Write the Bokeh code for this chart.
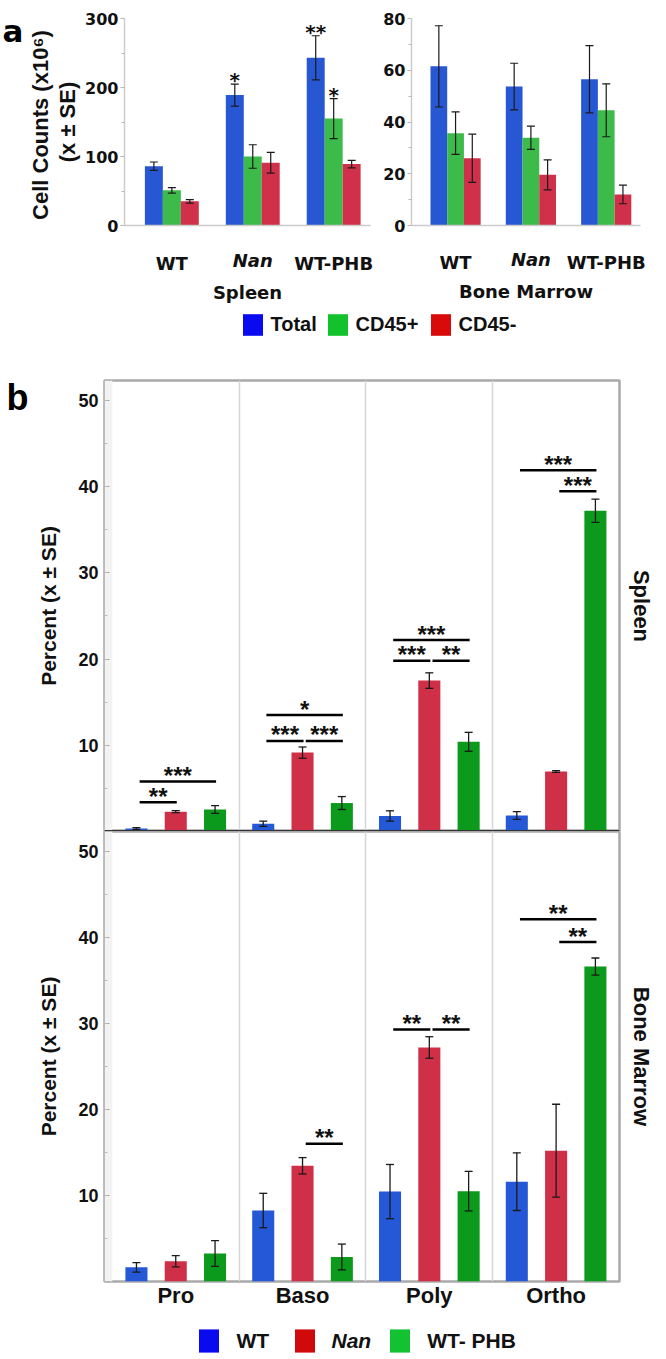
import numpy as np
from bokeh.plotting import figure
from bokeh.models import (Range1d, FixedTicker, SingleIntervalTicker, LinearAxis, Whisker,
                          TeeHead, ColumnDataSource, Legend, LegendItem, Span,
                          BoxAnnotation)
from bokeh.layouts import column, row
from bokeh.embed import file_html
from bokeh.resources import INLINE
from bokeh.core.properties import value

# ---------------- panel a data: cell counts (x10^6) ----------------
a_groups = ["WT", "Nan", "WT-PHB"]
a_series = ["Total", "CD45+", "CD45-"]

spleen_total = [86, 189, 243]
spleen_total_se = [6, 16, 32]
spleen_cd45pos = [51, 100, 155]
spleen_cd45pos_se = [4, 17, 29]
spleen_cd45neg = [35, 91, 89]
spleen_cd45neg_se = [2.5, 15, 5.5]

marrow_total = [61.5, 53.7, 56.5]
marrow_total_se = [15.7, 9.0, 13.0]
marrow_cd45pos = [35.7, 33.9, 44.5]
marrow_cd45pos_se = [8.2, 4.5, 10.2]
marrow_cd45neg = [26.0, 19.6, 12.0]
marrow_cd45neg_se = [9.3, 5.8, 3.6]

spleen_count_stars = [("Nan", "Total", "*"), ("WT-PHB", "Total", "**"), ("WT-PHB", "CD45+", "*")]
marrow_count_stars = []

# ---------------- panel b data: percent of erythroid stages ----------------
b_stages = ["Pro", "Baso", "Poly", "Ortho"]
b_genotypes = ["WT", "Nan", "WT- PHB"]

spleen_wt = [0.35, 0.9, 1.8, 1.85]
spleen_wt_se = [0.1, 0.3, 0.6, 0.45]
spleen_nan = [2.3, 9.15, 17.5, 6.95]
spleen_nan_se = [0.12, 0.65, 0.9, 0.1]
spleen_phb = [2.55, 3.3, 10.4, 37.2]
spleen_phb_se = [0.45, 0.75, 1.1, 1.35]

marrow_wt = [1.65, 8.25, 10.45, 11.6]
marrow_wt_se = [0.55, 2.0, 3.15, 3.35]
marrow_nan = [2.35, 13.45, 27.2, 15.2]
marrow_nan_se = [0.65, 0.95, 1.25, 5.4]
marrow_phb = [3.25, 2.85, 10.5, 36.6]
marrow_phb_se = [1.5, 1.5, 2.3, 1.0]

# (stage, from genotype, to genotype, bracket height, label)
spleen_sig = [("Pro", "WT", "Nan", 3.4, "**"), ("Pro", "WT", "WT- PHB", 5.8, "***"),
              ("Baso", "WT", "Nan", 10.5, "***"), ("Baso", "Nan", "WT- PHB", 10.5, "***"),
              ("Baso", "WT", "WT- PHB", 13.5, "*"),
              ("Poly", "WT", "Nan", 19.8, "***"), ("Poly", "Nan", "WT- PHB", 19.8, "**"),
              ("Poly", "WT", "WT- PHB", 22.2, "***"),
              ("Ortho", "WT", "WT- PHB", 41.9, "***"), ("Ortho", "Nan", "WT- PHB", 39.45, "***")]
marrow_sig = [("Baso", "Nan", "WT- PHB", 16.0, "**"),
              ("Poly", "WT", "Nan", 29.3, "**"), ("Poly", "Nan", "WT- PHB", 29.3, "**"),
              ("Ortho", "WT", "WT- PHB", 42.1, "**"), ("Ortho", "Nan", "WT- PHB", 39.45, "**")]

# ---------------- styles ----------------
A_BAR = {"Total": "#2757d3", "CD45+": "#3cba4a", "CD45-": "#d03049"}
A_LEG = {"Total": "#0a0af0", "CD45+": "#12c22c", "CD45-": "#d80a0a"}
B_BAR = {"WT": "#2458d6", "Nan": "#d02f48", "WT- PHB": "#0b9a1b"}
B_LEG = {"WT": "#0a0af0", "Nan": "#d00a0a", "WT- PHB": "#12c232"}
ARIAL = "Liberation Sans"
DEJAVU = "DejaVu Sans"
INK = "#111111"
A_W = 0.222
B_W = 0.174
B_OFF = 0.31
A_LABEL_H = 21  # height of an 18px DejaVu tick label box


def whisker(src, size, lw):
    return Whisker(source=src, base="x", upper="up", lower="lo", level="annotation",
                   line_color="#1a1a1a", line_width=lw,
                   upper_head=TeeHead(size=size, line_width=lw, line_color="#1a1a1a"),
                   lower_head=TeeHead(size=size, line_width=lw, line_color="#1a1a1a"))


def count_panel(means, ses, ymax, step, xlabel, width, bl, bt, fh, bb, br, stars, ylabel, standoff):
    p = figure(width=width, height=bt + fh + bb, x_range=Range1d(-0.085, 2.955),
               y_range=Range1d(0, ymax), output_backend="svg", toolbar_location=None,
               min_border_left=bl, min_border_right=br, min_border_top=bt, min_border_bottom=bb)
    p.outline_line_color = None
    p.grid.visible = False
    tops = {}
    for k, s in enumerate(a_series):
        xs = [i + 0.5 + (k - 1) * A_W for i in range(len(a_groups))]
        up = [m + e for m, e in zip(means[k], ses[k])]
        lo = [m - e for m, e in zip(means[k], ses[k])]
        src = ColumnDataSource(dict(x=xs, top=means[k], up=up, lo=lo))
        p.vbar(x="x", top="top", bottom=0, width=A_W, source=src,
               fill_color=A_BAR[s], line_color=None)
        p.add_layout(whisker(src, 8, 1.2))
        for i, g in enumerate(a_groups):
            tops[(g, s)] = (xs[i], up[i])
    if stars:
        p.text(x=[tops[(g, s)][0] for g, s, _ in stars], y=[tops[(g, s)][1] for g, s, _ in stars],
               text=[t for _, _, t in stars], text_font=value(DEJAVU), text_font_style="bold",
               text_font_size="20px", text_align="center", text_baseline="alphabetic",
               y_offset=-4, text_color=INK)
    ticks = {g: i + 0.5 for i, g in enumerate(a_groups)}
    # inner x axis: the italic genotype label ("Nan")
    xa = p.xaxis[0]
    xa.ticker = FixedTicker(ticks=[ticks["Nan"]])
    xa.major_label_overrides = {ticks["Nan"]: "Nan"}
    xa.major_tick_line_color = None
    xa.major_tick_out = 0
    xa.major_tick_in = 0
    xa.minor_tick_line_color = None
    xa.axis_line_color = "#cccccc"
    xa.axis_line_width = 1.5
    xa.major_label_text_font = DEJAVU
    xa.major_label_text_font_style = "bold italic"
    xa.major_label_text_font_size = "18px"
    xa.major_label_text_color = INK
    xa.major_label_standoff = standoff
    # outer x axis: the upright genotype labels and the tissue title, on the same line
    upright = [g for g in a_groups if g != "Nan"]
    xo = LinearAxis(ticker=FixedTicker(ticks=[ticks[g] for g in upright]),
                    major_label_overrides={ticks[g]: g for g in upright},
                    axis_line_color=None, major_tick_line_color=None, minor_tick_line_color=None,
                    major_tick_out=0, major_tick_in=0,
                    major_label_standoff=-A_LABEL_H,
                    major_label_text_font=DEJAVU, major_label_text_font_style="bold",
                    major_label_text_font_size="18px", major_label_text_color=INK,
                    axis_label=xlabel, axis_label_text_font=DEJAVU,
                    axis_label_text_font_style="bold", axis_label_text_font_size="18px",
                    axis_label_text_color=INK, axis_label_standoff=5)
    p.add_layout(xo, "below")
    # y axis
    ya = p.yaxis[0]
    ya.ticker = SingleIntervalTicker(interval=step, num_minor_ticks=2)
    ya.axis_line_color = "#cccccc"
    ya.axis_line_width = 1.5
    ya.major_tick_line_color = "#aaaaaa"
    ya.major_tick_in = 0
    ya.major_tick_out = 4
    ya.minor_tick_line_color = "#bbbbbb"
    ya.minor_tick_in = 0
    ya.minor_tick_out = 3
    ya.major_label_text_font = DEJAVU
    ya.major_label_text_font_style = "bold"
    ya.major_label_text_font_size = "16px"
    ya.major_label_text_color = INK
    ya.major_label_standoff = 2
    if ylabel:
        ya.axis_label = "(x ± SE)"
        ya.axis_label_text_font = ARIAL
        ya.axis_label_text_font_style = "bold"
        ya.axis_label_text_font_size = "22px"
        ya.axis_label_text_color = INK
        ya.axis_label_standoff = 2
        outer = LinearAxis(ticker=FixedTicker(ticks=[]), axis_label="Cell Counts  (x10⁶)",
                           axis_line_color=None, major_tick_line_color=None,
                           minor_tick_line_color=None, major_tick_out=0, major_tick_in=0,
                           major_label_text_font_size="0px", major_label_standoff=0,
                           axis_label_standoff=0, axis_label_text_font=ARIAL,
                           axis_label_text_font_style="bold", axis_label_text_font_size="22px",
                           axis_label_text_color=INK)
        p.add_layout(outer, "left")
    return p


def percent_panel(series, ses, sigs, side_label, bt, fh, bb, x_range, show_x):
    p = figure(width=634, height=bt + fh + bb, x_range=x_range, y_range=Range1d(0, 52.3),
               output_backend="svg", toolbar_location=None,
               min_border_left=72, min_border_right=47, min_border_top=bt, min_border_bottom=bb,
               x_axis_location=("below" if show_x else None))
    p.outline_line_color = "#a9a9a9"
    p.outline_line_width = 2.5
    p.ygrid.visible = False
    p.xgrid.ticker = FixedTicker(ticks=[i for i in range(1, len(b_stages))])
    p.xgrid.grid_line_color = "#d6d6d6"
    p.xgrid.grid_line_width = 1.5
    p.add_layout(BoxAnnotation(right=0, fill_color="#f3f3f3", fill_alpha=1.0,
                               line_color=None, level="underlay"))
    centers = {}
    for k, g in enumerate(b_genotypes):
        xs = [i + 0.5 + (k - 1) * B_OFF for i in range(len(b_stages))]
        up = [m + e for m, e in zip(series[k], ses[k])]
        lo = [m - e for m, e in zip(series[k], ses[k])]
        src = ColumnDataSource(dict(x=xs, top=series[k], up=up, lo=lo))
        p.vbar(x="x", top="top", bottom=0, width=B_W, source=src,
               fill_color=B_BAR[g], line_color=None)
        p.add_layout(whisker(src, 8, 1.3))
        for i, st in enumerate(b_stages):
            centers[(st, g)] = xs[i]
    x0 = [centers[(st, g1)] + 0.025 for st, g1, g2, y, t in sigs]
    x1 = [centers[(st, g2)] + 0.008 for st, g1, g2, y, t in sigs]
    ys = [y for st, g1, g2, y, t in sigs]
    p.segment(x0=x0, y0=ys, x1=x1, y1=ys, line_color="black", line_width=2.5)
    p.text(x=[(a + b) / 2 for a, b in zip(x0, x1)], y=ys, text=[t for *_, t in sigs],
           text_font=value(ARIAL), text_font_style="bold", text_font_size="24px",
           text_align="center", text_baseline="alphabetic", y_offset=-6, text_color=INK)
    ya = p.yaxis[0]
    ya.ticker = SingleIntervalTicker(interval=10, num_minor_ticks=2)
    ya.major_label_overrides = {0: ""}
    ya.axis_line_color = None
    ya.major_tick_line_color = "#aaaaaa"
    ya.major_tick_in = 5
    ya.major_tick_out = 0
    ya.minor_tick_line_color = "#bbbbbb"
    ya.minor_tick_in = 3
    ya.minor_tick_out = 0
    ya.major_label_text_font = ARIAL
    ya.major_label_text_font_style = "bold"
    ya.major_label_text_font_size = "18px"
    ya.major_label_text_color = INK
    ya.major_label_standoff = 6
    ya.axis_label = "Percent (x ± SE)"
    ya.axis_label_text_font = ARIAL
    ya.axis_label_text_font_style = "bold"
    ya.axis_label_text_font_size = "21px"
    ya.axis_label_text_color = INK
    ya.axis_label_standoff = 15
    ra = LinearAxis(ticker=FixedTicker(ticks=[]), axis_label=side_label, axis_line_color=None,
                    major_tick_line_color=None, minor_tick_line_color=None, major_tick_out=0,
                    major_tick_in=0, major_label_text_font_size="0px", major_label_standoff=0,
                    axis_label_standoff=9, axis_label_text_font=ARIAL,
                    axis_label_text_font_style="bold", axis_label_text_font_size="22px",
                    axis_label_text_color=INK)
    p.add_layout(ra, "right")
    if show_x:
        xa = p.xaxis[0]
        xa.ticker = FixedTicker(ticks=[i + 0.5 for i in range(len(b_stages))])
        xa.major_label_overrides = {i + 0.5: s for i, s in enumerate(b_stages)}
        xa.axis_line_color = None
        xa.major_tick_line_color = None
        xa.minor_tick_line_color = None
        xa.major_tick_out = 0
        xa.major_label_text_font = ARIAL
        xa.major_label_text_font_style = "bold"
        xa.major_label_text_font_size = "22px"
        xa.major_label_text_color = INK
        xa.major_label_standoff = 1
    else:
        p.add_layout(Span(location=0, dimension="width", line_color="#333333", line_width=3))
    return p


def letter_fig(letter, width, height, x, baseline_from_top, font, size):
    p = figure(width=width, height=height, x_range=Range1d(0, width), y_range=Range1d(0, height),
               output_backend="svg", toolbar_location=None, min_border=0,
               x_axis_type=None, y_axis_type=None)
    p.grid.visible = False
    p.outline_line_color = None
    p.text(x=[x], y=[height - baseline_from_top], text=[letter], text_font=value(font),
           text_font_style="bold", text_font_size=size, text_baseline="alphabetic",
           text_align="left", text_color="black")
    return p


def legend_strip(height, entries, font_size, standoff, gw, gh, ybottom):
    p = figure(width=666, height=height, x_range=Range1d(0, 1), y_range=Range1d(0, 1),
               output_backend="svg", toolbar_location=None, min_border=0,
               x_axis_type=None, y_axis_type=None)
    p.grid.visible = False
    p.outline_line_color = None
    for label, color, x, style in entries:
        # swatch renderer: its only bar lies outside the visible range
        r = p.vbar(x=[-5], top=[-5], bottom=[-4], width=0.1, fill_color=color, line_color=None)
        leg = Legend(items=[LegendItem(label=label, renderers=[r])], location=(x, ybottom),
                     orientation="horizontal", glyph_width=gw, glyph_height=gh,
                     label_standoff=standoff, padding=0, margin=0, spacing=0,
                     border_line_color=None, background_fill_alpha=0,
                     label_text_font=ARIAL, label_text_font_style=style,
                     label_text_font_size=font_size, label_text_color=INK)
        p.add_layout(leg, "center")
    return p


let_a = letter_fig("a", 22, 305, 2, 19, DEJAVU, "31px")
pa_left = count_panel([spleen_total, spleen_cd45pos, spleen_cd45neg],
                      [spleen_total_se, spleen_cd45pos_se, spleen_cd45neg_se],
                      300, 100, "Spleen", 356, 102, 17, 220, 68, 8, spleen_count_stars, True, 24)
pa_right = count_panel([marrow_total, marrow_cd45pos, marrow_cd45neg],
                       [marrow_total_se, marrow_cd45pos_se, marrow_cd45neg_se],
                       80, 20, "Bone Marrow", 288, 33, 18, 215, 72, 26, marrow_count_stars, False, 23)

leg_a = legend_strip(42, [("Total", A_LEG["Total"], 239.5, "bold"),
                          ("CD45+", A_LEG["CD45+"], 324.5, "bold"),
                          ("CD45-", A_LEG["CD45-"], 427.5, "bold")],
                     "20px", 6, 25, 27, 9.5)

let_b = letter_fig("b", 32, 964, 6, 50, ARIAL, "36px")
xr_b = Range1d(-0.062, 4.0)
pb_top = percent_panel([spleen_wt, spleen_nan, spleen_phb],
                       [spleen_wt_se, spleen_nan_se, spleen_phb_se],
                       spleen_sig, "Spleen", 33, 451, 0, xr_b, False)
pb_bot = percent_panel([marrow_wt, marrow_nan, marrow_phb],
                       [marrow_wt_se, marrow_nan_se, marrow_phb_se],
                       marrow_sig, "Bone Marrow", 0, 450, 30, xr_b, True)

leg_b = legend_strip(48, [("WT", B_LEG["WT"], 196.4, "bold"),
                          ("Nan", B_LEG["Nan"], 291.5, "bold italic"),
                          ("WT- PHB", B_LEG["WT- PHB"], 387.2, "bold")],
                     "21px", 15, 25, 29, 4)

layout = column(row(let_a, pa_left, pa_right), leg_a,
                row(let_b, column(pb_top, pb_bot)), leg_b)
open("out.html", "w").write(file_html(layout, INLINE))
